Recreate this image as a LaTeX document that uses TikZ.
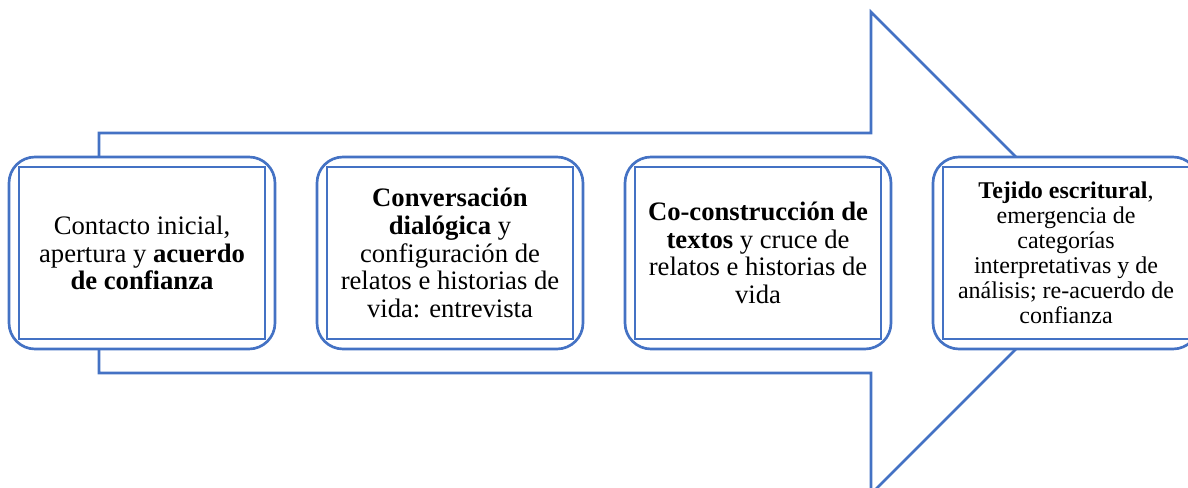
\documentclass[tikz,border=0pt]{standalone}
\usepackage{fontspec}
\setmainfont{LiberationSerif}[Extension=.ttf, UprightFont=*-Regular, BoldFont=*-Bold, ItalicFont=*-Italic, BoldItalicFont=*-BoldItalic]
\usepackage{xcolor}
\definecolor{officeBlue}{RGB}{68,114,196}
\colorlet{colorFrame}{officeBlue}
\colorlet{colorText}{black}
\usetikzlibrary{positioning}
\tikzset{
  stage/.style={draw=colorFrame, fill=white, rounded corners=19.5pt, outer sep=0pt,
    minimum width=199.5pt, minimum height=144pt, align=center, text=colorText,
    font=\fontsize{20}{20.75}\selectfont},
  stageSmall/.style={stage, font=\fontsize{18}{18.75}\selectfont},
  inner frame/.style={draw=colorFrame, sharp corners}
}

\begin{document}
\begin{tikzpicture}[x=0.75pt, y=-0.75pt, line width=2pt, node distance=31.5pt]
\clip (0,0) rectangle (1188,488);
\draw[colorFrame, line join=miter] (99,133) -- (871,133) -- (871,12) -- (1112,253) -- (871,494) -- (871,373) -- (99,373) -- cycle;
\node[stage] (s1) at (142,253) {Contacto inicial,\\apertura y \textbf{acuerdo}\\\textbf{de confianza}};
\node[stage, right=of s1] (s2) {\textbf{Conversación}\\\textbf{dialógica} y\\configuración de\\relatos e historias de\\vida: entrevista};
\node[stage, right=of s2] (s3) {\textbf{Co-construcción de}\\\textbf{textos} y cruce de\\relatos e historias de\\vida};
\node[stageSmall, right=of s3] (s4) {\textbf{Tejido escritural},\\emergencia de\\categorías\\interpretativas y de\\análisis; re-acuerdo de\\confianza};
\foreach \s in {s1,s2,s3,s4}
  \draw[inner frame] ([xshift=7.5pt,yshift=-7.5pt]\s.north west) rectangle ([xshift=-7.5pt,yshift=7.5pt]\s.south east);
\end{tikzpicture}
\end{document}
